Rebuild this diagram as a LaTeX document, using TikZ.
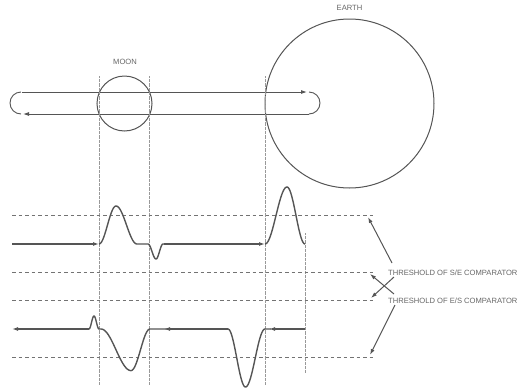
\documentclass[tikz,border=0pt]{standalone}
\usepackage{fontspec}
\setmainfont{Liberation Sans}
\usetikzlibrary{arrows.meta}
\definecolor{ln}{HTML}{555555}
\definecolor{tx}{HTML}{666666}
\begin{document}
\begin{tikzpicture}[x=1pt,y=-1pt,
  body/.style={draw=ln,line width=1pt},
  sig/.style={draw=ln,line width=1.4pt,line join=round},
  track/.style={draw=ln,line width=0.9pt},
  guide/.style={draw=gray!80,line width=0.6pt,dash pattern=on 0.6pt off 0.7pt},
  thr/.style={draw=gray!90!black,line width=0.9pt,dash pattern=on 3.5pt off 3pt},
  pointer/.style={draw=ln,line width=1pt},
  tip/.style={-{Latex[length=6pt,width=4pt]}},
  lbl/.style={text=tx,font=\fontsize{7.6}{9}\selectfont,inner sep=0pt}]
\useasboundingbox (0,0) rectangle (523,389);
% bodies
\draw[body] (349.5,103.5) circle (84.5);
\draw[body] (124.5,103.5) circle (27.5);
\node[lbl] (earth) at (349.5,8) {EARTH};
\node[lbl] (moon) at (125,62) {MOON};
% track
\coordinate (tl) at (21,92); \coordinate (tr) at (309,92);
\coordinate (bl) at (21,114); \coordinate (br) at (309,114);
\draw[track,tip] (22,92) -- (307,92);
\draw[track,tip] (br) -- (23,114);
\draw[track] (tl) arc[start angle=270,end angle=90,radius=11];
\draw[track] (tr) arc[start angle=-90,end angle=90,radius=11];
% vertical guides
\foreach \x in {99,149,265} \draw[guide] (\x,76) -- (\x,385);
\draw[guide] (305,233) -- (305,373);
% thresholds
\foreach \y in {215.7,272.3,300,357.3} \draw[thr] (12,\y) -- (375,\y);
% upper signal
\draw[sig,tip] (12,244) -- (99,244);
\draw[sig] plot[domain=99:116,samples=30] (\x,{244-19*(1-cos(180*(\x-99)/17))})
  -- plot[domain=116:137,samples=30] (\x,{244-19*(1+cos(180*(\x-116)/21))})
  -- (148,244)
  -- plot[domain=148:156,samples=15] (\x,{244+7.5*(1-cos(180*(\x-148)/8))})
  -- plot[domain=156:163,samples=15] (\x,{244+7.5*(1+cos(180*(\x-156)/7))})
  -- (168,244);
\draw[sig,tip] (164,244) -- (265,244);
\draw[sig] plot[domain=265:287,samples=30] (\x,{244-28.5*(1-cos(180*(\x-265)/22))})
  -- plot[domain=287:305,samples=30] (\x,{244-28.5*(1+cos(180*(\x-287)/18))});
% lower signal
\draw[sig,tip] (305,329) -- (269,329);
\draw[sig] (271,329) -- (265,329)
  -- plot[domain=265:245.5,samples=30] (\x,{329+29*(1-cos(180*(265-\x)/19.5))})
  -- plot[domain=245.5:228,samples=30] (\x,{329+29*(1+cos(180*(245.5-\x)/17.5))});
\draw[sig,tip] (228,329) -- (164,329);
\draw[sig] (167,329) -- (150,329)
  -- plot[domain=150:131,samples=30] (\x,{329+20.8*(1-cos(180*(150-\x)/19))})
  -- plot[domain=131:101,samples=40] (\x,{329+20.8*(1+cos(180*(131-\x)/30))})
  -- (99,329)
  -- plot[domain=99:94,samples=12] (\x,{329-6.5*(1-cos(180*(99-\x)/5))})
  -- plot[domain=94:89,samples=12] (\x,{329-6.5*(1+cos(180*(94-\x)/5))});
\draw[sig,tip] (89,329) -- (12,329);
% labels
\node[lbl,anchor=west] (se) at (388,272.3) {THRESHOLD OF S/E COMPARATOR};
\node[lbl,anchor=west] (es) at (388,300.5) {THRESHOLD OF E/S COMPARATOR};
\coordinate (p1) at (392,263); \coordinate (q1) at (368,217);
\coordinate (p2) at (394,277); \coordinate (q2) at (371,298);
\coordinate (p3) at (394,294); \coordinate (q3) at (370,274);
\coordinate (p4) at (395,305); \coordinate (q4) at (370,355);
\foreach \i in {1,...,4} \draw[pointer,tip] (p\i) -- (q\i);
\end{tikzpicture}
\end{document}
